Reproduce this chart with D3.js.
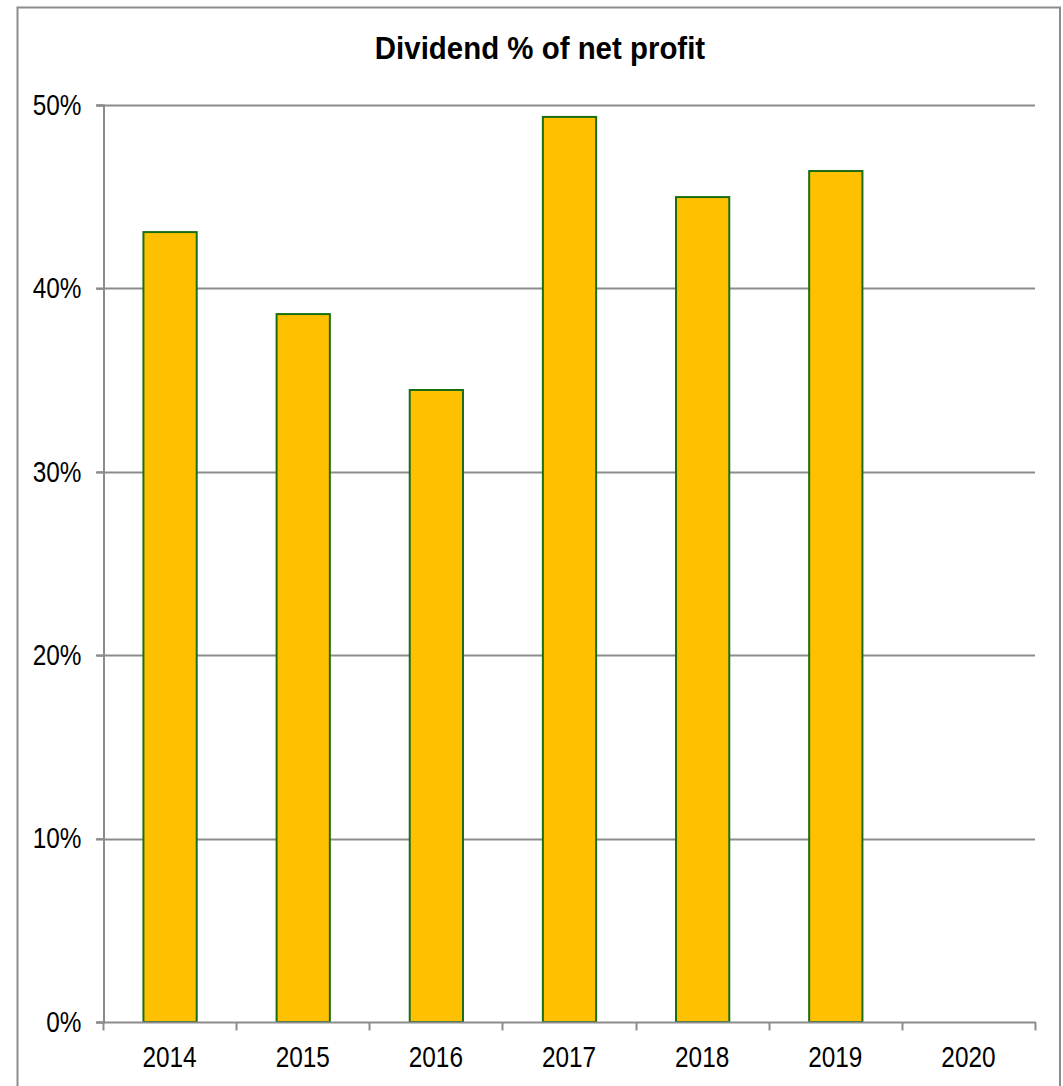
<!DOCTYPE html>
<html>
<head>
<meta charset="utf-8">
<script src="https://cdn.jsdelivr.net/npm/d3@7"></script>
<style>
  html, body { margin: 0; padding: 0; background: #fff; }
  svg { display: block; }
  text { font-family: "Liberation Sans", Arial, sans-serif; }
</style>
</head>
<body>
<svg id="chart" width="1063" height="1086"></svg>
<script>
// Payout ratio by year (fraction of net profit paid as dividend)
const years = ["2014", "2015", "2016", "2017", "2018", "2019", "2020"];
const payout = [0.4307, 0.3860, 0.3446, 0.4935, 0.4498, 0.4640, null];
const yTicks = [0, 0.1, 0.2, 0.3, 0.4, 0.5];
const title = "Dividend % of net profit";

const svg = d3.select("#chart");
const W = 1063, H = 1086;
const m = { left: 103, right: 1035, top: 105, bottom: 1022 };
const narrow = 0.84; // horizontal condensing of label glyphs

// outer chart frame
svg.append("rect")
  .attr("x", 17.5).attr("y", 7.5)
  .attr("width", 1060 - 17.5).attr("height", H + 10)
  .attr("fill", "#fff").attr("stroke", "#8c8c8c").attr("stroke-width", 2);

svg.append("text")
  .attr("transform", "translate(540,59) scale(0.95,1)")
  .attr("text-anchor", "middle")
  .attr("font-size", 31).attr("font-weight", "bold")
  .attr("fill", "#000")
  .text(title);

const x = d3.scaleBand().domain(years).range([m.left, m.right]).paddingInner(0).paddingOuter(0);
const y = d3.scaleLinear().domain([0, 0.5]).range([m.bottom, m.top]);

const gridColor = "#8c8c8c";

// horizontal gridlines with outward tick stubs
svg.append("g").selectAll("line")
  .data(yTicks.filter(t => t > 0))
  .join("line")
  .attr("x1", m.left - 7).attr("x2", m.right)
  .attr("y1", d => Math.round(y(d)) + 0.5).attr("y2", d => Math.round(y(d)) + 0.5)
  .attr("stroke", gridColor).attr("stroke-width", 2);

// y axis
const yAxis = d3.axisLeft(y).tickValues(yTicks).tickFormat(d3.format(".0%")).tickSize(7).tickPadding(14);
const gy = svg.append("g").attr("transform", `translate(${m.left + 0.5},0)`).call(yAxis);
gy.select(".domain").attr("stroke", gridColor).attr("stroke-width", 2);
gy.selectAll(".tick line").attr("stroke", gridColor).attr("stroke-width", 2);
gy.selectAll(".tick text")
  .attr("x", 0)
  .attr("transform", `translate(-22,0) scale(${narrow},1)`)
  .attr("font-size", 29).attr("fill", "#000")
  .style("font-family", '"Liberation Sans", Arial, sans-serif');

// bars
svg.append("g").selectAll("rect")
  .data(years.map((yr, i) => ({ yr, v: payout[i] })).filter(d => d.v != null))
  .join("rect")
  .attr("x", d => x(d.yr) + x.bandwidth() * 0.3 + 0.5)
  .attr("width", x.bandwidth() * 0.4)
  .attr("y", d => y(d.v))
  .attr("height", d => y(0) - y(d.v))
  .attr("fill", "#FFC000")
  .attr("stroke", "#1a6e12").attr("stroke-width", 2);

// x axis with boundary ticks between categories
const gx = svg.append("g").attr("transform", `translate(0,${m.bottom + 0.5})`);
gx.append("line")
  .attr("x1", m.left - 7).attr("x2", m.right + 1)
  .attr("stroke", gridColor).attr("stroke-width", 2);
const bounds = years.map(d => x(d)).concat([m.right]);
gx.selectAll("line.b")
  .data(bounds).join("line").attr("class", "b")
  .attr("x1", d => Math.round(d) + 0.5).attr("x2", d => Math.round(d) + 0.5)
  .attr("y1", 0).attr("y2", 8)
  .attr("stroke", gridColor).attr("stroke-width", 2);
gx.selectAll("text")
  .data(years).join("text")
  .attr("transform", d => `translate(${x(d) + x.bandwidth() / 2},44) scale(${narrow},1)`)
  .attr("text-anchor", "middle")
  .attr("font-size", 29).attr("fill", "#000")
  .text(d => d);
</script>
</body>
</html>
